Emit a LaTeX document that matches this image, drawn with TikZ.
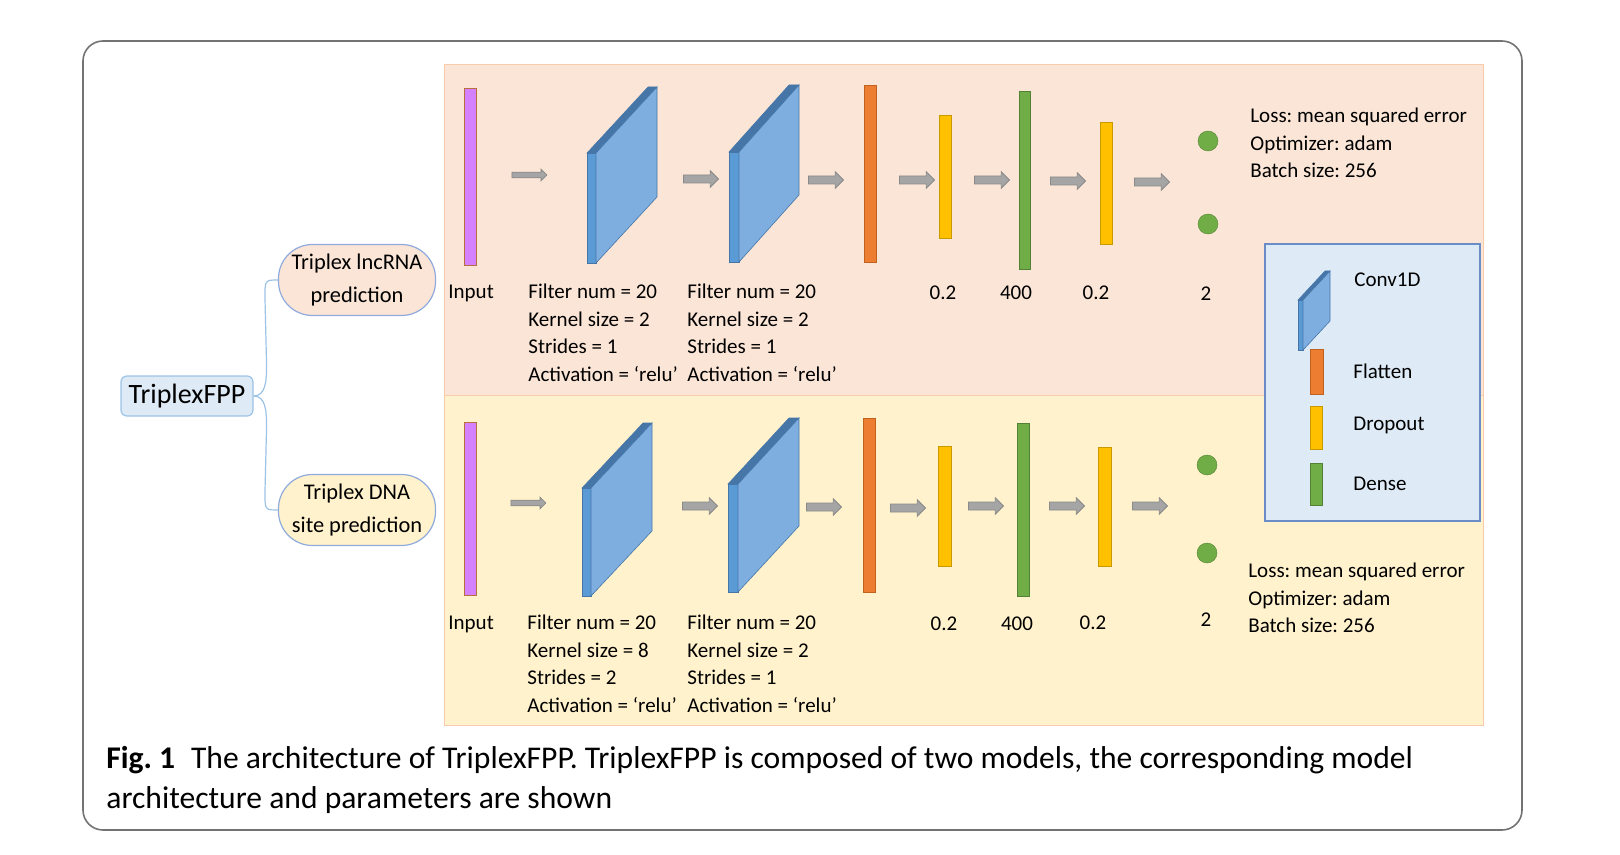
\documentclass[tikz,border=0pt]{standalone}
\usepackage{fontspec}
\setmainfont{Carlito}
\usetikzlibrary{shapes.arrows}
\frenchspacing

\definecolor{peach}{HTML}{FBE5D6}
\definecolor{cream}{HTML}{FFF2CC}
\definecolor{panelline}{HTML}{F8CBAD}
\definecolor{iceblue}{HTML}{DEEBF7}
\definecolor{linkblue}{HTML}{9DC3E6}
\definecolor{pillline}{HTML}{8FAADC}
\definecolor{legendline}{HTML}{6A8CC7}
\definecolor{inputfill}{HTML}{D580FF}
\definecolor{inputline}{HTML}{B8703A}
\definecolor{flatfill}{HTML}{ED7D31}
\definecolor{flatline}{HTML}{C0621E}
\definecolor{dropfill}{HTML}{FFC000}
\definecolor{dropline}{HTML}{C99A00}
\definecolor{densefill}{HTML}{70AD47}
\definecolor{denseline}{HTML}{548235}
\definecolor{convfront}{HTML}{5B9BD5}
\definecolor{convtop}{HTML}{4676A8}
\definecolor{convside}{HTML}{7DAEDF}
\definecolor{arrowgray}{HTML}{A5A5A5}
\definecolor{arrowline}{HTML}{8A8A8A}

% conv slab: x, y (front top left), width, height, depth x, rise
\newcommand{\convslab}[6]{%
  \filldraw[fill=convfront,draw=convtop,line width=0.3pt] (#1,#2) rectangle (#1+#3,#2+#4);
  \filldraw[fill=convtop,draw=convtop,line width=0.3pt] (#1,#2) -- (#1+#3,#2) -- (#1+#3+#5,#2-#6) -- (#1+#5,#2-#6) -- cycle;
  \filldraw[fill=convside,draw=convtop,line width=0.3pt] (#1+#3,#2) -- (#1+#3+#5,#2-#6) -- (#1+#3+#5,#2+#4-#6) -- (#1+#3,#2+#4) -- cycle;}

\begin{document}
\begin{tikzpicture}[x=0.5pt,y=-0.5pt,
    lbl/.style={inner sep=0pt, font=\fontsize{10.5}{13.75}\selectfont},
    flow/.style={single arrow, draw=arrowline, fill=arrowgray, line width=0.4pt, inner sep=0pt,
      text height=3.6pt, text depth=0pt, minimum height=17.5pt,
      single arrow head extend=2.1pt, single arrow head indent=0pt},
    slimflow/.style={flow, text height=2.4pt, single arrow head extend=1.5pt},
    inbar/.style={fill=inputfill, draw=inputline, line width=0.4pt},
    flatbar/.style={fill=flatfill, draw=flatline, line width=0.4pt},
    dropbar/.style={fill=dropfill, draw=dropline, line width=0.4pt},
    densebar/.style={fill=densefill, draw=denseline, line width=0.4pt},
    outdot/.style={fill=densefill, draw=denseline, line width=0.2pt},
    pill/.style={draw=pillline, line width=0.6pt, rounded corners=17pt, minimum width=78.5pt,
      minimum height=35.5pt, align=center, inner sep=0pt, font=\fontsize{11.2}{16.5}\selectfont},
    link/.style={draw=linkblue, line width=0.6pt}]
\useasboundingbox (0,0) rectangle (1620,855);

% frame
\draw[black!55, line width=0.8pt, rounded corners=10pt] (83,41) rectangle (1522,830);

% panels
\draw[draw=panelline, fill=peach, line width=0.5pt] (444,65) rectangle (1483,395);
\draw[draw=panelline, fill=cream, line width=0.5pt] (444,395) rectangle (1483,725);

% mind map
\node[draw=linkblue, fill=iceblue, line width=0.6pt, rounded corners=3pt, minimum width=66pt,
  minimum height=20pt, inner sep=0pt, font=\fontsize{14}{16}\selectfont] (fpp) at (187,396) {TriplexFPP};
\node[pill, fill=peach] (lnc) at (357,280) {Triplex lncRNA\\prediction};
\node[pill, fill=cream] (dna) at (357,510) {Triplex DNA\\site prediction};
\draw[link] (fpp.east) .. controls +(12,0) and +(0,15) .. ++(13,-30)
  -- ([shift={(-13,15)}]lnc.west) .. controls +(0,-15) and +(-12,0) .. (lnc.west);
\draw[link] (fpp.east) .. controls +(12,0) and +(0,-15) .. ++(13,30)
  -- ([shift={(-13,-15)}]dna.west) .. controls +(0,15) and +(-12,0) .. (dna.west);

% lncRNA model
\draw[inbar] (464,88) rectangle (476,265);
\node[slimflow] (ta1) at (528,175) {};
\convslab{587}{153}{9}{110}{61}{66}
\node[flow] (ta2) at (699,179) {};
\convslab{729}{152}{10}{110}{60}{67}
\node[flow] (ta3) at (824,180) {};
\draw[flatbar] (864,85) rectangle (876,262);
\node[flow] (ta4) at (915,180) {};
\draw[dropbar] (939,115) rectangle (951,238);
\node[flow] (ta5) at (990,180) {};
\draw[densebar] (1019,91) rectangle (1030,269);
\node[flow] (ta6) at (1066,181) {};
\draw[dropbar] (1100,122) rectangle (1112,244);
\node[flow] (ta7) at (1150,182) {};
\draw[outdot] (1208,141) circle (5pt);
\draw[outdot] (1208,224) circle (5pt);

\node[lbl, anchor=west] (tinl) at (448,293) {Input};
\node[lbl, anchor=north west, align=left] (tc1l) at (528,284) {Filter num = 20\\Kernel size = 2\\Strides = 1\\Activation = ‘relu’};
\node[lbl, anchor=north west, align=left] (tc2l) at (687,284) {Filter num = 20\\Kernel size = 2\\Strides = 1\\Activation = ‘relu’};
\node[lbl] (td1l) at (943,293) {0.2};
\node[lbl] (tdsl) at (1016,293) {400};
\node[lbl] (td2l) at (1096,293) {0.2};
\node[lbl] (toutl) at (1206,294) {2};
\node[lbl, anchor=north west, align=left] (tloss) at (1250,108) {Loss: mean squared error\\Optimizer: adam\\Batch size: 256};

% DNA model
\draw[inbar] (464,422) rectangle (476,595);
\node[slimflow] (ba1) at (527,503) {};
\convslab{582}{488}{9}{108}{61}{65}
\node[flow] (ba2) at (698,506) {};
\convslab{728}{484}{10}{108}{61}{66}
\node[flow] (ba3) at (822,507) {};
\draw[flatbar] (863,418) rectangle (875,592);
\node[flow] (ba4) at (906,508) {};
\draw[dropbar] (938,446) rectangle (951,566);
\node[flow] (ba5) at (984,506) {};
\draw[densebar] (1017,423) rectangle (1029,596);
\node[flow] (ba6) at (1065,506) {};
\draw[dropbar] (1098,447) rectangle (1111,566);
\node[flow] (ba7) at (1148,506) {};
\draw[outdot] (1207,465) circle (5pt);
\draw[outdot] (1207,553) circle (5pt);

\node[lbl, anchor=west] (binl) at (448,624) {Input};
\node[lbl, anchor=north west, align=left] (bc1l) at (527,615) {Filter num = 20\\Kernel size = 8\\Strides = 2\\Activation = ‘relu’};
\node[lbl, anchor=north west, align=left] (bc2l) at (687,615) {Filter num = 20\\Kernel size = 2\\Strides = 1\\Activation = ‘relu’};
\node[lbl] (bd1l) at (944,624) {0.2};
\node[lbl] (bdsl) at (1017,624) {400};
\node[lbl] (bd2l) at (1093,623) {0.2};
\node[lbl] (boutl) at (1206,620) {2};
\node[lbl, anchor=north west, align=left] (bloss) at (1248,563) {Loss: mean squared error\\Optimizer: adam\\Batch size: 256};

% legend
\draw[draw=legendline, fill=iceblue, line width=0.8pt] (1265,244) rectangle (1480,521);
\convslab{1298}{300}{5}{50}{27}{29}
\draw[flatbar] (1310,349) rectangle (1323,394);
\draw[dropbar] (1310,406) rectangle (1322,449);
\draw[densebar] (1310,463) rectangle (1322,505);
\node[lbl, anchor=west] (lconv) at (1354,280) {Conv1D};
\node[lbl, anchor=west] (lflat) at (1353,371) {Flatten};
\node[lbl, anchor=west] (ldrop) at (1353,425) {Dropout};
\node[lbl, anchor=west] (ldense) at (1353,484) {Dense};

% caption
\node[anchor=north west, align=left, inner sep=0pt, font=\fontsize{15.8}{20}\selectfont] (cap) at (106,746)
  {\textbf{Fig. 1}\enspace The architecture of TriplexFPP. TriplexFPP is composed of two models, the corresponding model\\architecture and parameters are shown};
\end{tikzpicture}
\end{document}
